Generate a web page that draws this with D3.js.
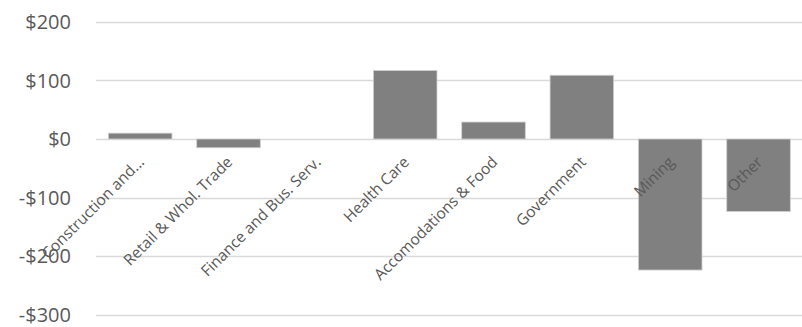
<!DOCTYPE html>
<html>
<head>
<meta charset="utf-8">
<script src="https://cdn.jsdelivr.net/npm/d3@7"></script>
<style>
  html, body { margin: 0; padding: 0; background: #fff; }
  svg { display: block; }
</style>
</head>
<body>
<script>
// Change by sector (dollars)
const categories = ["Construction and...", "Retail & Whol. Trade", "Finance and Bus. Serv.", "Health Care",
  "Accomodations & Food", "Government", "Mining", "Other"];
const values = [10, -15, 0, 117, 29, 109, -224, -124];
const yTicks = [-300, -200, -100, 0, 100, 200];

const W = 802, H = 327;
const svg = d3.select("body").append("svg").attr("width", W).attr("height", H);

const x = d3.scaleBand().domain(categories).range([96, 802.7]).paddingInner(0.28).paddingOuter(0.14);
const y = d3.scaleLinear().domain([-300, 200]).range([314.5, 22]);

const fmt = v => (v < 0 ? "-$" : "$") + Math.abs(v);

// Gridlines
svg.append("g")
  .selectAll("line").data(yTicks).join("line")
  .attr("x1", 96).attr("x2", W)
  .attr("y1", d => Math.round(y(d)) + 0.5).attr("y2", d => Math.round(y(d)) + 0.5)
  .attr("stroke", "#d9d9d9").attr("stroke-width", 1.3);

// Y axis labels
const yAxis = d3.axisLeft(y).tickValues(yTicks).tickFormat(fmt).tickSize(0).tickPadding(0);
const gy = svg.append("g").attr("transform", "translate(71,0)").call(yAxis);
gy.select(".domain").remove();
gy.selectAll(".tick text")
  .attr("x", 0).attr("y", -1).attr("dy", null)
  .attr("dominant-baseline", "central")
  .attr("fill", "#595959")
  .style("font-family", "'Open Sans', sans-serif")
  .style("font-size", "20px");

// Bars
svg.append("g")
  .selectAll("rect").data(values).join("rect")
  .attr("x", (d, i) => x(categories[i]))
  .attr("width", x.bandwidth())
  .attr("y", d => y(Math.max(0, d)))
  .attr("height", d => Math.abs(y(d) - y(0)))
  .attr("fill", "#808080")
  .attr("stroke", "#d0d0d0")
  .attr("stroke-width", 0.8);

// Category labels, rotated, anchored below the zero line
svg.append("g")
  .selectAll("text").data(categories).join("text")
  .attr("transform", d => `translate(${x(d) + x.bandwidth() / 2 + 5},${y(0) + 24}) rotate(-45)`)
  .attr("text-anchor", "end")
  .attr("fill", "#595959")
  .style("font-family", "'Open Sans', sans-serif")
  .style("font-size", "15.5px")
  .text(d => d);
</script>
</body>
</html>
